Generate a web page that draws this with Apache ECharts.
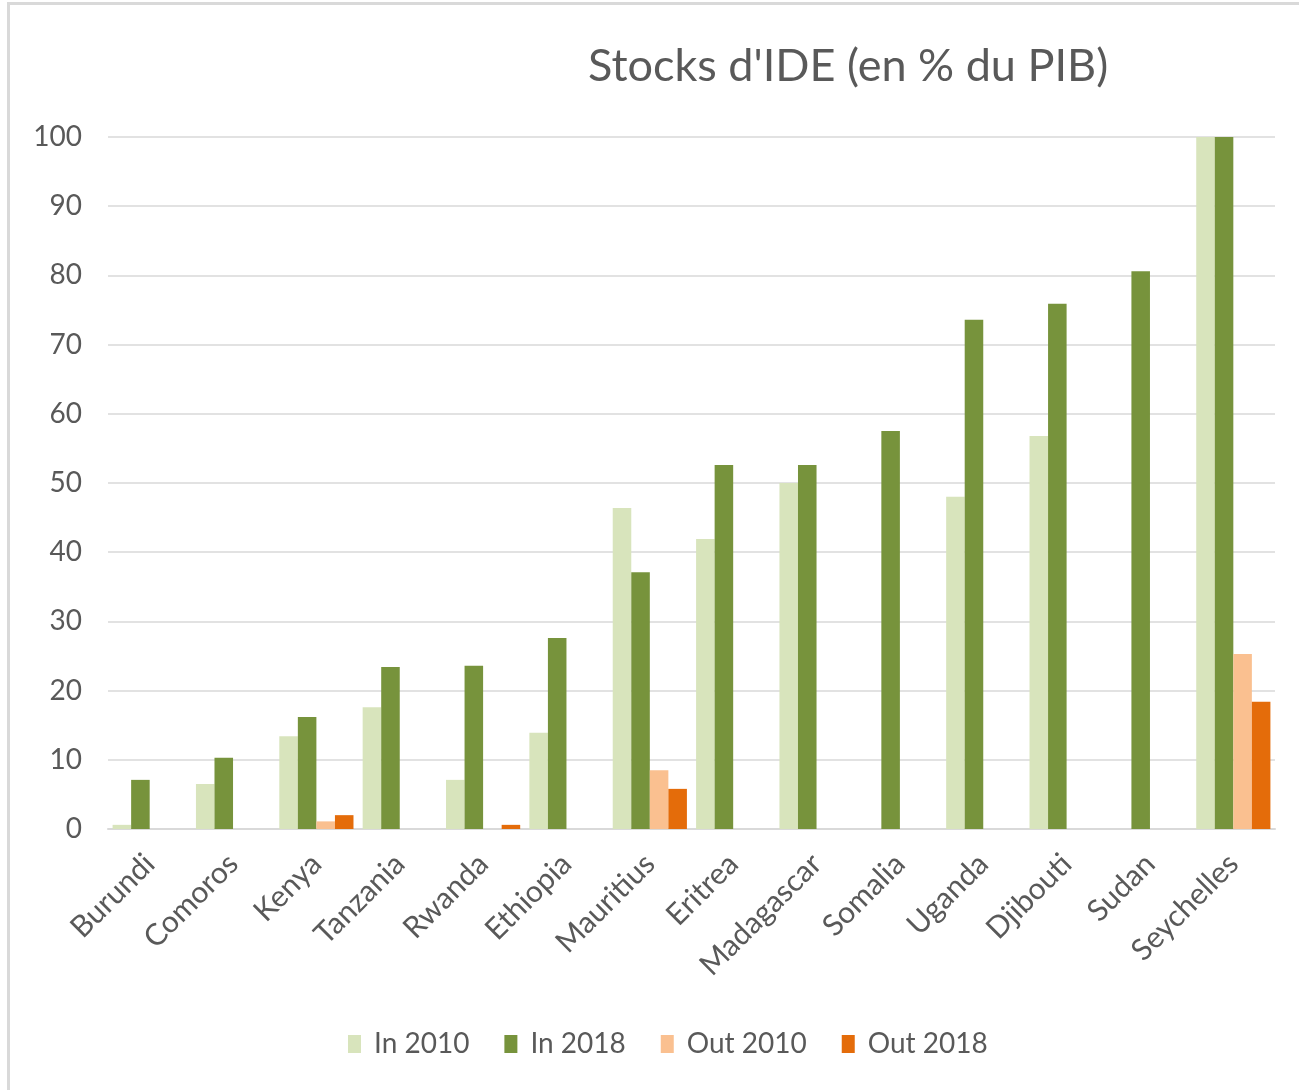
<!DOCTYPE html>
<html>
<head>
<meta charset="utf-8">
<script src="https://cdn.jsdelivr.net/npm/echarts@6/dist/echarts.min.js"></script>
<style>
html,body{margin:0;padding:0;background:#fff;}
#chart{width:1299px;height:1090px;position:absolute;left:0;top:0;}
#frame{position:absolute;left:7px;top:2px;width:1300px;height:1100px;border-top:3px solid #d9d9d9;border-left:3px solid #d9d9d9;pointer-events:none;}
</style>
</head>
<body>
<div id="chart"></div>
<div id="frame"></div>
<script>
const categories = ['Burundi','Comoros','Kenya','Tanzania','Rwanda','Ethiopia','Mauritius','Eritrea','Madagascar','Somalia','Uganda','Djibouti','Sudan','Seychelles'];
const in2010  = [0.6, 6.5, 13.4, 17.6, 7.1, 13.9, 46.4, 41.9, 50.0, 0, 48.0, 56.8, 0, 100];
const in2018  = [7.1, 10.3, 16.2, 23.4, 23.6, 27.6, 37.1, 52.6, 52.6, 57.5, 73.6, 75.9, 80.6, 100];
const out2010 = [0, 0, 1.1, 0, 0, 0, 8.5, 0, 0, 0, 0, 0, 0, 25.3];
const out2018 = [0, 0, 2.0, 0, 0.6, 0, 5.8, 0, 0, 0, 0, 0, 0, 18.4];
const seriesNames = ['In 2010','In 2018','Out 2010','Out 2018'];
const yTicks = [0,10,20,30,40,50,60,70,80,90,100];

const colors = ['#d8e4bc','#77933c','#fac090','#e46c0a'];
const font = 'Lato, "Open Sans", sans-serif';
const chart = echarts.init(document.getElementById('chart'));
const dataSets = [in2010, in2018, out2010, out2018];
chart.setOption({
  animation:false,
  color: colors,
  title:{
    text:"Stocks d'IDE (en % du PIB)",
    left:583, top:39,
    textStyle:{fontFamily:font,fontSize:45,fontWeight:'normal',color:'#595959'}
  },
  legend:{
    data:seriesNames,
    left:343, top:1025,
    itemWidth:13, itemHeight:18, itemGap:35,
    icon:'rect',
    textStyle:{fontFamily:font,fontSize:28,color:'#595959',padding:[0,0,0,8]}
  },
  grid:{left:108,right:24,top:137,bottom:261,containLabel:false},
  xAxis:{
    type:'category',
    data:categories,
    axisTick:{show:false},
    axisLine:{lineStyle:{color:'#d9d9d9',width:2}},
    axisLabel:{rotate:45,margin:30,fontFamily:font,fontSize:30,color:'#595959',interval:0}
  },
  yAxis:{
    type:'value',min:yTicks[0],max:yTicks[yTicks.length-1],interval:10,
    axisLine:{show:false},axisTick:{show:false},
    splitLine:{lineStyle:{color:'#d9d9d9',width:1.5}},
    axisLabel:{margin:26,fontFamily:font,fontSize:28,color:'#595959'}
  },
  series: seriesNames.map((n,i)=>({
    name:n,type:'bar',data:dataSets[i],
    barGap:'0%',barCategoryGap:'11%',
    itemStyle:{color:colors[i]}
  }))
});
</script>
</body>
</html>
